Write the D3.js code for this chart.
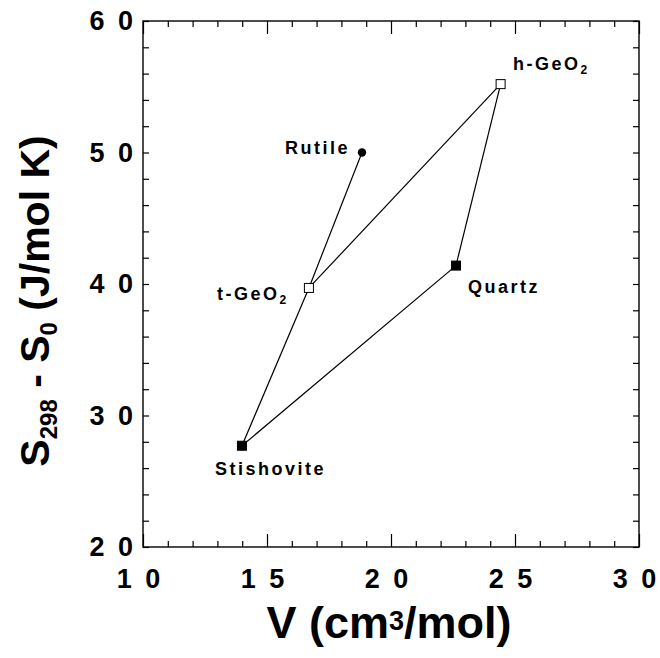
<!DOCTYPE html>
<html>
<head>
<meta charset="utf-8">
<script src="https://cdn.jsdelivr.net/npm/d3@7"></script>
<style>
  body { margin: 0; background: #fff; }
  text { font-family: "Liberation Sans", Arial, Helvetica, sans-serif; font-weight: bold; fill: #000; }
</style>
</head>
<body>
<div id="chart"></div>
<script>
// data
const names = ["Rutile", "t-GeO2", "h-GeO2", "Quartz", "Stishovite"];
const volume = [18.83, 16.69, 24.42, 22.62, 13.99];      // V (cm3/mol)
const entropy = [50.0, 39.7, 55.2, 41.4, 27.7];          // S298 - S0 (J/mol K)
const markers = ["dot", "open", "open", "filled", "filled"];
// line segments between minerals
const links = [
    ["Rutile", "t-GeO2"], ["t-GeO2", "Stishovite"],
    ["t-GeO2", "h-GeO2"], ["h-GeO2", "Quartz"],
    ["Quartz", "Stishovite"]
];
const xTicks = [10, 15, 20, 25, 30];
const yTicks = [20, 30, 40, 50, 60];

const W = 660, H = 658;
const margin = { top: 21, right: 21, bottom: 111, left: 143 };
const width = W - margin.left - margin.right;
const height = H - margin.top - margin.bottom;

const svg = d3.select("#chart").append("svg")
    .attr("width", W).attr("height", H);
const g = svg.append("g")
    .attr("transform", `translate(${margin.left},${margin.top})`);

const x = d3.scaleLinear().domain([10, 30]).range([0, width]);
const y = d3.scaleLinear().domain([20, 60]).range([height, 0]);

const spaced = d => String(d).split("").join(" ");

// minor + major ticks, pointing inward, on all four sides
function tickLayer(axis, tr) {
    const a = g.append("g").attr("transform", tr).call(axis);
    a.select(".domain").remove();
    a.selectAll("line").attr("stroke", "#000").attr("stroke-width", 1.2);
    return a;
}
const xMinor = d3.range(10, 31, 1);
const yMinor = d3.range(20, 61, 2);
tickLayer(d3.axisBottom(x).tickValues(xMinor.filter(v => v % 5)).tickSize(-6).tickFormat(""), `translate(0,${height})`);
tickLayer(d3.axisTop(x).tickValues(xMinor.filter(v => v % 5)).tickSize(-6).tickFormat(""), "translate(0,0)");
tickLayer(d3.axisBottom(x).tickValues(xTicks).tickSize(-13).tickFormat(""), `translate(0,${height})`);
tickLayer(d3.axisTop(x).tickValues(xTicks).tickSize(-13).tickFormat(""), "translate(0,0)");
tickLayer(d3.axisLeft(y).tickValues(yMinor).tickSize(-6).tickFormat(""), "translate(0,0)");
tickLayer(d3.axisRight(y).tickValues(yMinor).tickSize(-6).tickFormat(""), `translate(${width},0)`);

// tick labels
g.selectAll(".xl").data(xTicks).enter().append("text")
    .attr("x", d => x(d) - 3).attr("y", height + 41)
    .attr("text-anchor", "middle")
    .style("font-size", "27px").style("letter-spacing", "3px")
    .text(spaced);
g.selectAll(".yl").data(yTicks).enter().append("text")
    .attr("x", -7).attr("y", d => y(d) + 9)
    .attr("text-anchor", "end")
    .style("font-size", "27px").style("letter-spacing", "3px")
    .text(spaced);

// frame
g.append("rect")
    .attr("width", width).attr("height", height)
    .attr("fill", "none").attr("stroke", "#000").attr("stroke-width", 1.4);

// lines
const pos = {};
names.forEach((n, i) => pos[n] = [x(volume[i]), y(entropy[i])]);
g.selectAll(".link").data(links).enter().append("line")
    .attr("x1", d => pos[d[0]][0]).attr("y1", d => pos[d[0]][1])
    .attr("x2", d => pos[d[1]][0]).attr("y2", d => pos[d[1]][1])
    .attr("stroke", "#000").attr("stroke-width", 1.2);

// markers
names.forEach((n, i) => {
    const [px, py] = pos[n];
    if (markers[i] === "dot") {
        g.append("circle").attr("cx", px).attr("cy", py).attr("r", 4.2).attr("fill", "#000");
    } else {
        g.append("rect")
            .attr("x", px - 4.5).attr("y", py - 4.5)
            .attr("width", 9).attr("height", 9)
            .attr("fill", markers[i] === "filled" ? "#000" : "#fff")
            .attr("stroke", "#000").attr("stroke-width", 1);
    }
});

// point labels
const labelStyle = t => t.style("font-size", "18px").style("letter-spacing", "2.5px");
g.append("text").attr("x", 350 - margin.left).attr("y", 154 - margin.top)
    .attr("text-anchor", "end").call(labelStyle).text("Rutile");
g.append("text").attr("x", 468 - margin.left).attr("y", 293 - margin.top)
    .call(labelStyle).text("Quartz");
g.append("text").attr("x", 215 - margin.left).attr("y", 475 - margin.top)
    .call(labelStyle).text("Stishovite");

function geLabel(prefix, lx, ly) {
    const t = g.append("text").attr("x", lx - margin.left).attr("y", ly - margin.top).call(labelStyle);
    t.append("tspan").text(prefix + "-GeO");
    t.append("tspan").attr("dy", 4).style("font-size", "12px").text("2");
}
geLabel("t", 217, 300);
geLabel("h", 513, 70);

// axis titles
svg.append("text")
    .attr("x", margin.left + width / 2 - 2).attr("y", 638)
    .attr("text-anchor", "middle")
    .style("font-size", "45px")
    .html('V (cm<tspan dy="-8" style="font-size:27px">3</tspan><tspan dy="8">/mol)</tspan>');

const yt = svg.append("text")
    .attr("transform", `translate(49,${margin.top + 280}) rotate(-90)`)
    .attr("text-anchor", "middle")
    .style("font-size", "41px");
yt.append("tspan").text("S");
yt.append("tspan").attr("dy", 8).style("font-size", "24px").text("298");
yt.append("tspan").attr("dy", -8).text(" - S");
yt.append("tspan").attr("dy", 8).style("font-size", "24px").text("0");
yt.append("tspan").attr("dy", -8).text(" (J/mol K)");
</script>
</body>
</html>
